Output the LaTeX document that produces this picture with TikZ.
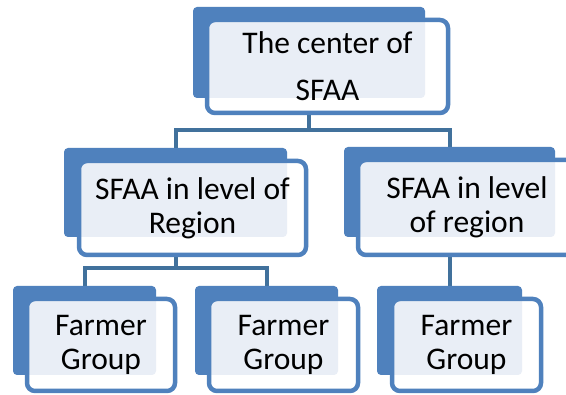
\documentclass[tikz,border=0pt]{standalone}
\usepackage{fontspec}
\setmainfont{Carlito}
\usetikzlibrary{fit}
\definecolor{orgblue}{HTML}{4F81BD}
\definecolor{linkblue}{HTML}{41719C}
\definecolor{overlapfill}{HTML}{E9EEF6}
\tikzset{
  backbox/.style={fill=orgblue, rounded corners=4, inner sep=0, outer sep=0},
  frontbox/.style={fill=white, rounded corners=8, inner sep=0, outer sep=0},
  frontline/.style={draw=orgblue, line width=4.5, rounded corners=8},
  boxtext/.style={align=center, font=\fontsize{31.5}{34}\selectfont},
  link/.style={draw=linkblue, line width=4}
}
% name, back corners, front corners, text
\newcommand{\orgbox}[6]{%
  \node[backbox, fit={#2 #3}] (#1back) {};
  \node[frontbox, fit={#4 #5}] (#1) {};
  \begin{scope}
    \clip[rounded corners=8] (#1.south west) rectangle (#1.north east);
    \fill[overlapfill, rounded corners=4] (#1back.south west) rectangle (#1back.north east);
  \end{scope}
  \draw[frontline] (#1.south west) rectangle (#1.north east);
  \node[boxtext] at (#1) {#6};
}

\begin{document}
\begin{tikzpicture}[x=1pt,y=-1pt]
  \clip (0,0) rectangle (566,395);
  \fill[white] (0,0) rectangle (566,395);

  % links, drawn first so the boxes hide them
  \coordinate (topmid) at (309,52);
  \coordinate (leftmid) at (175.5,192);
  \draw[link] (topmid) -- (309,130) -| (175.5,192);
  \draw[link] (topmid) -- (309,130) -| (449.5,192);
  \draw[link] (leftmid) -- (175.5,268) -| (84.5,330);
  \draw[link] (leftmid) -- (175.5,268) -| (266.5,330);
  \draw[link] (449.5,192) -- (449.5,330);

  \orgbox{center}{(193,7)}{(425,98)}{(207,20)}{(448,113)}{The center of\\[13pt]SFAA}
  \orgbox{regionA}{(64,148)}{(287,237)}{(79,161)}{(306,255)}{SFAA in level of\\Region}
  \orgbox{regionB}{(344,147)}{(555,237)}{(358,160)}{(576,255)}{SFAA in level\\of region}
  \orgbox{groupA}{(13,286)}{(156,375)}{(27,299)}{(175,391)}{Farmer\\Group}
  \orgbox{groupB}{(195,286)}{(338,375)}{(209,299)}{(358,391)}{Farmer\\Group}
  \orgbox{groupC}{(377,286)}{(522,375)}{(392,299)}{(541,391)}{Farmer\\Group}
\end{tikzpicture}
\end{document}
